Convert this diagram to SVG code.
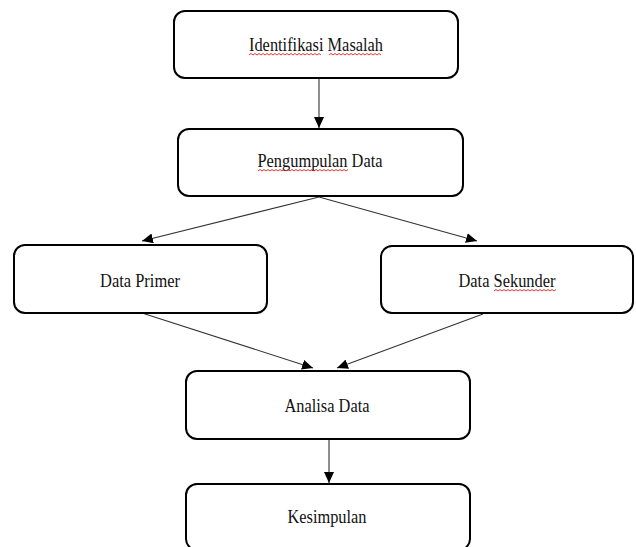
<svg xmlns="http://www.w3.org/2000/svg" width="636" height="547" viewBox="0 0 636 547">
<style>
.box{fill:#fff;stroke:#000;stroke-width:2}
.lbl{font-family:"Liberation Serif","Times New Roman",serif;font-size:18.5px;fill:#111;text-anchor:middle}
.conn{stroke:#333;stroke-width:1.1;fill:none}
.sq{stroke:#e02020;stroke-width:0.9;fill:none}
</style>
<defs>
<marker id="ah" markerUnits="userSpaceOnUse" markerWidth="12" markerHeight="10" refX="11" refY="5" orient="auto">
<path d="M0,0 L11,5 L0,10 z" fill="#000"/>
</marker>
</defs>
<rect width="636" height="547" fill="#fff"/>
<g id="connectors">
<line class="conn" x1="319" y1="78" x2="319" y2="128" marker-end="url(#ah)"/>
<line class="conn" x1="319" y1="197" x2="142" y2="241" marker-end="url(#ah)"/>
<line class="conn" x1="319" y1="197" x2="477" y2="241" marker-end="url(#ah)"/>
<line class="conn" x1="142" y1="313" x2="313" y2="368" marker-end="url(#ah)"/>
<line class="conn" x1="483" y1="314" x2="337" y2="368" marker-end="url(#ah)"/>
<line class="conn" x1="329" y1="439" x2="329" y2="483" marker-end="url(#ah)"/>
</g>
<g id="identifikasi">
<rect class="box" x="174" y="11" width="284" height="67" rx="11"/>
<text class="lbl" x="316" y="51" textLength="134" lengthAdjust="spacingAndGlyphs">Identifikasi Masalah</text>
<path class="sq" d="M249,55 l2,-1.5 l2,1.5 l2,-1.5 l2,1.5 l2,-1.5 l2,1.5 l2,-1.5 l2,1.5 l2,-1.5 l2,1.5 l2,-1.5 l2,1.5 l2,-1.5 l2,1.5 l2,-1.5 l2,1.5 l2,-1.5 l2,1.5 l2,-1.5 l2,1.5 l2,-1.5 l2,1.5 l2,-1.5 l2,1.5 l2,-1.5 l2,1.5 l2,-1.5 l2,1.5 l2,-1.5 l2,1.5 l2,-1.5 l2,1.5 l2,-1.5 l2,1.5 l2,-1.5 l2,1.5"/>
<path class="sq" d="M329,55 l2,-1.5 l2,1.5 l2,-1.5 l2,1.5 l2,-1.5 l2,1.5 l2,-1.5 l2,1.5 l2,-1.5 l2,1.5 l2,-1.5 l2,1.5 l2,-1.5 l2,1.5 l2,-1.5 l2,1.5 l2,-1.5 l2,1.5 l2,-1.5 l2,1.5 l2,-1.5 l2,1.5 l2,-1.5 l2,1.5 l2,-1.5 l2,1.5"/>
</g>
<g id="pengumpulan">
<rect class="box" x="178" y="129" width="285" height="67" rx="11"/>
<text class="lbl" x="320" y="167" textLength="125" lengthAdjust="spacingAndGlyphs">Pengumpulan Data</text>
<path class="sq" d="M258,171 l2,-1.5 l2,1.5 l2,-1.5 l2,1.5 l2,-1.5 l2,1.5 l2,-1.5 l2,1.5 l2,-1.5 l2,1.5 l2,-1.5 l2,1.5 l2,-1.5 l2,1.5 l2,-1.5 l2,1.5 l2,-1.5 l2,1.5 l2,-1.5 l2,1.5 l2,-1.5 l2,1.5 l2,-1.5 l2,1.5 l2,-1.5 l2,1.5 l2,-1.5 l2,1.5 l2,-1.5 l2,1.5 l2,-1.5 l2,1.5 l2,-1.5 l2,1.5 l2,-1.5 l2,1.5 l2,-1.5 l2,1.5 l2,-1.5 l2,1.5 l2,-1.5 l2,1.5 l2,-1.5 l2,1.5 l2,-1.5"/>
</g>
<g id="data-primer">
<rect class="box" x="14" y="245" width="253" height="68" rx="11"/>
<text class="lbl" x="140" y="287" textLength="80" lengthAdjust="spacingAndGlyphs">Data Primer</text>
</g>
<g id="data-sekunder">
<rect class="box" x="381" y="246" width="252" height="67" rx="11"/>
<text class="lbl" x="507" y="287" textLength="97" lengthAdjust="spacingAndGlyphs">Data Sekunder</text>
<path class="sq" d="M494,291 l2,-1.5 l2,1.5 l2,-1.5 l2,1.5 l2,-1.5 l2,1.5 l2,-1.5 l2,1.5 l2,-1.5 l2,1.5 l2,-1.5 l2,1.5 l2,-1.5 l2,1.5 l2,-1.5 l2,1.5 l2,-1.5 l2,1.5 l2,-1.5 l2,1.5 l2,-1.5 l2,1.5 l2,-1.5 l2,1.5 l2,-1.5 l2,1.5 l2,-1.5 l2,1.5 l2,-1.5 l2,1.5 l2,-1.5"/>
</g>
<g id="analisa">
<rect class="box" x="186" y="371" width="284" height="68" rx="11"/>
<text class="lbl" x="327" y="412" textLength="85" lengthAdjust="spacingAndGlyphs">Analisa Data</text>
</g>
<g id="kesimpulan">
<rect class="box" x="186" y="484" width="284" height="66" rx="11"/>
<text class="lbl" x="327" y="523" textLength="79" lengthAdjust="spacingAndGlyphs">Kesimpulan</text>
</g>
</svg>
